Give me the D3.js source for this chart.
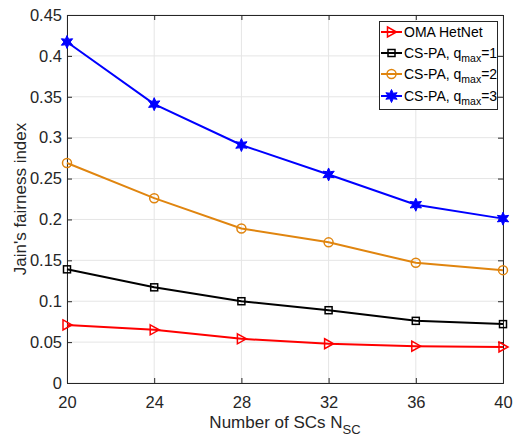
<!DOCTYPE html>
<html><head><meta charset="utf-8">
<script src="https://cdn.jsdelivr.net/npm/d3@7"></script>
<style>body{margin:0;background:#fff}svg{display:block;font-family:"Liberation Sans",Arial,sans-serif}</style>
</head><body><svg id="c" width="514" height="437"></svg>
<script>
const xValues = [20, 24, 28, 32, 36, 40];
const omaHetNet = [0.071, 0.065, 0.054, 0.048, 0.045, 0.044];
const csPaQ1 = [0.139, 0.117, 0.100, 0.089, 0.076, 0.072];
const csPaQ2 = [0.269, 0.226, 0.189, 0.172, 0.147, 0.138];
const csPaQ3 = [0.417, 0.341, 0.291, 0.255, 0.218, 0.201];
const xTicks = [20, 24, 28, 32, 36, 40];
const yTicks = [0, 0.05, 0.1, 0.15, 0.2, 0.25, 0.3, 0.35, 0.4, 0.45];

const svg = d3.select("#c");
const L = 67, R = 503, T = 15, B = 383;
const x = d3.scaleLinear().domain([20, 40]).range([L, R]);
const y = d3.scaleLinear().domain([0, 0.45]).range([B, T]);

// grid
svg.append("g").selectAll("line").data(xTicks).join("line")
  .attr("x1", d => x(d)).attr("x2", d => x(d)).attr("y1", T).attr("y2", B)
  .attr("stroke", "#e5e5e5").attr("stroke-width", 1);
svg.append("g").selectAll("line").data(yTicks).join("line")
  .attr("y1", d => y(d)).attr("y2", d => y(d)).attr("x1", L).attr("x2", R)
  .attr("stroke", "#e5e5e5").attr("stroke-width", 1);

// axes
const fmt = d => d3.format("")(+d.toFixed(2));
const xAxis = d3.axisBottom(x).tickValues(xTicks).tickSize(-5).tickPadding(13).tickFormat(d => d);
const yAxis = d3.axisLeft(y).tickValues(yTicks).tickSize(-5).tickPadding(5).tickFormat(fmt);
const xa = svg.append("g").attr("transform", `translate(0,${B})`).call(xAxis);
const ya = svg.append("g").attr("transform", `translate(${L},0)`).call(yAxis);
const xt = svg.append("g").attr("transform", `translate(0,${T})`).call(d3.axisTop(x).tickValues(xTicks).tickSize(-5).tickFormat(""));
const yr = svg.append("g").attr("transform", `translate(${R},0)`).call(d3.axisRight(y).tickValues(yTicks).tickSize(-5).tickFormat(""));
[xa, ya, xt, yr].forEach(g => {
  g.selectAll("path.domain").attr("stroke", "#262626").attr("stroke-width", 1);
  g.selectAll(".tick line").attr("stroke", "#262626");
  g.selectAll(".tick text").attr("fill", "#262626").style("font-size", "16.5px").style("font-family", "Liberation Sans, Arial, sans-serif");
});

// labels
svg.append("text").attr("x", x(30)).attr("y", 428).attr("text-anchor", "middle")
  .attr("fill", "#262626").style("font-size", "17px")
  .html('Number of SCs N<tspan dy="6" font-size="13px">SC</tspan>');
svg.append("text").attr("transform", `translate(26,${(T + B) / 2}) rotate(-90)`).attr("text-anchor", "middle")
  .attr("fill", "#262626").style("font-size", "17px").text("Jain's fairness index");

// markers
function tri(g, c) { g.append("path").attr("d", "M-4,-5 L5,0 L-4,5 Z").attr("fill", "none").attr("stroke", c).attr("stroke-width", 1.5); }
function sq(g, c) { g.append("rect").attr("x", -3.5).attr("y", -3.5).attr("width", 7).attr("height", 7).attr("fill", "none").attr("stroke", c).attr("stroke-width", 1.5); }
function circ(g, c) { g.append("circle").attr("r", 4.5).attr("fill", "none").attr("stroke", c).attr("stroke-width", 1.5); }
function hex(g, c) {
  const pts = [];
  for (let i = 0; i < 12; i++) {
    const r = i % 2 === 0 ? 6.5 : 3.2;
    const a = Math.PI / 2 + i * Math.PI / 6;
    pts.push([r * Math.cos(a), -r * Math.sin(a)]);
  }
  g.append("path").attr("d", "M" + pts.join("L") + "Z").attr("fill", c).attr("stroke", c).attr("stroke-width", 1);
}

const series = [
  { name: "OMA HetNet", data: omaHetNet, color: "#ff0000", m: tri, w: 2 },
  { name: "q1", data: csPaQ1, color: "#000000", m: sq, w: 2 },
  { name: "q2", data: csPaQ2, color: "#e0850f", m: circ, w: 2 },
  { name: "q3", data: csPaQ3, color: "#0000ff", m: hex, w: 2 }
];
const line = d3.line().x((d, i) => x(xValues[i])).y(d => y(d));
series.forEach(s => {
  svg.append("path").datum(s.data).attr("d", line).attr("fill", "none").attr("stroke", s.color).attr("stroke-width", s.w);
  s.data.forEach((v, i) => {
    const g = svg.append("g").attr("transform", `translate(${x(xValues[i])},${y(v)})`);
    s.m(g, s.color);
  });
});

// legend
const lg = svg.append("g");
lg.append("rect").attr("x", 379.5).attr("y", 21.5).attr("width", 118).attr("height", 88)
  .attr("fill", "#fff").attr("stroke", "#262626").attr("stroke-width", 1);
const labels = [
  'OMA HetNet',
  'CS-PA, q<tspan dy="4" font-size="10.5px">max</tspan><tspan dy="-4">=1</tspan>',
  'CS-PA, q<tspan dy="4" font-size="10.5px">max</tspan><tspan dy="-4">=2</tspan>',
  'CS-PA, q<tspan dy="4" font-size="10.5px">max</tspan><tspan dy="-4">=3</tspan>'
];
const ly = [32, 53, 74, 96];
series.forEach((s, i) => {
  lg.append("line").attr("x1", 381).attr("x2", 402).attr("y1", ly[i]).attr("y2", ly[i]).attr("stroke", s.color).attr("stroke-width", 2);
  const g = lg.append("g").attr("transform", `translate(391.5,${ly[i]})`);
  s.m(g, s.color);
  lg.append("text").attr("x", 404).attr("y", ly[i] + 5).attr("fill", "#000").style("font-size", "14px").html(labels[i]);
});
</script></body></html>
